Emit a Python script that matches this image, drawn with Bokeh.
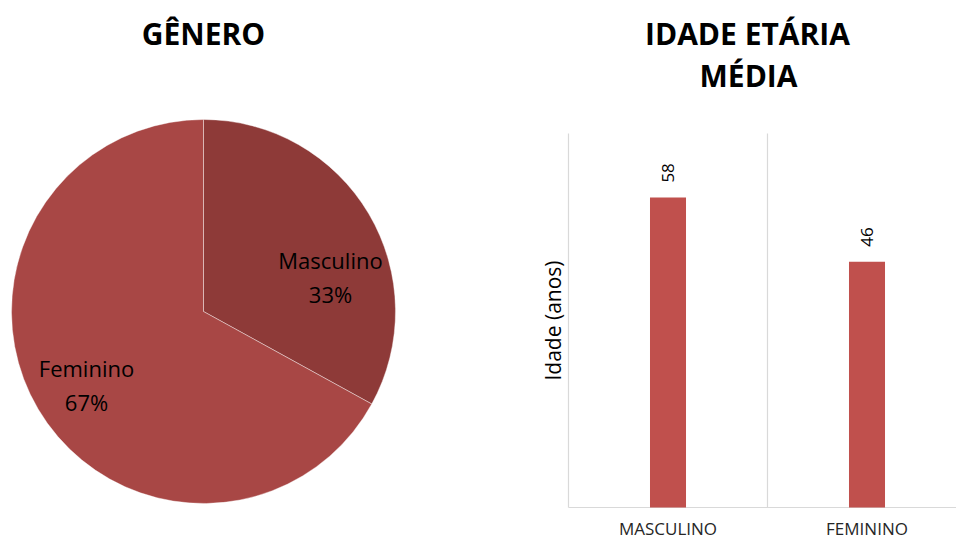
import math
from bokeh.plotting import figure
from bokeh.models import Range1d, ColumnDataSource
from bokeh.core.properties import value
from bokeh.embed import file_html
from bokeh.resources import INLINE

# ---------------- data ----------------
gender_labels = ["Masculino", "Feminino"]
gender_pct = [33, 67]
gender_colors = ["#8E3A38", "#A84745"]

age_categories = ["MASCULINO", "FEMININO"]
age_values = [58, 46]
age_max = 70

FONT = "Open Sans"
W, H = 956, 543

# one canvas in pixel coordinates (y up)
p = figure(width=W, height=H, x_range=Range1d(0, W), y_range=Range1d(0, H),
           x_axis_type=None, y_axis_type=None, min_border=0,
           outline_line_color=None, output_backend="svg", toolbar_location=None)
p.grid.visible = False

def Y(page_y):
    return H - page_y

# ---------------- pie ----------------
cx, cy, r = 203, Y(311), 192
total = sum(gender_pct)
starts, ends = [], []
a = math.pi / 2
for v in gender_pct:
    starts.append(a)
    a -= 2 * math.pi * v / total
    ends.append(a)

lab_x = [330, 86]
lab_y = [Y(276), Y(384)]
src = ColumnDataSource(dict(
    start=starts, end=ends, color=gender_colors,
    name=gender_labels, pct=[f"{v}%" for v in gender_pct],
    lx=lab_x, ly=lab_y))
p.wedge(x=cx, y=cy, radius=r, start_angle="start", end_angle="end",
        direction="clock", fill_color="color", line_color="white",
        line_width=0.8, line_alpha=0.5, source=src)
p.text(x="lx", y="ly", text="name", source=src, y_offset=-17,
       text_font=value(FONT), text_font_size="22px", text_align="center",
       text_baseline="middle", text_color="black")
p.text(x="lx", y="ly", text="pct", source=src, y_offset=17,
       text_font=value(FONT), text_font_size="22px", text_align="center",
       text_baseline="middle", text_color="black")
p.text(x=[203], y=[Y(33)], text=["GÊNERO"], text_font=value(FONT),
       text_font_style="bold", text_font_size="30px", text_align="center",
       text_baseline="middle", text_color="black")

# ---------------- bar chart (own scales) ----------------
frame_left, frame_top, frame_bottom = 568, 133, 507
cat_px = 199
ppu = (frame_bottom - frame_top) / age_max
p.extra_x_ranges = {"cat": Range1d(-frame_left / cat_px, (W - frame_left) / cat_px)}
p.extra_y_ranges = {"age": Range1d(-(H - frame_bottom) / ppu, frame_bottom / ppu)}
cat_end = (W - frame_left) / cat_px

xs = [i + 0.5 for i in range(len(age_categories))]
grey = "#D9D9D9"
# axis lines and category separator
p.segment(x0=[0, 0, 1], y0=[0, 0, 0], x1=[cat_end, 0, 1], y1=[0, age_max, age_max],
          line_color=grey, line_width=1.2, x_range_name="cat", y_range_name="age")
p.vbar(x=xs, top=age_values, width=0.181, fill_color="#C0504D", line_color=None,
       x_range_name="cat", y_range_name="age")
p.text(x=xs, y=age_values, text=[str(v) for v in age_values], angle=math.pi / 2,
       y_offset=-15, text_align="left", text_baseline="middle",
       text_font=value(FONT), text_font_size="17px", text_color="black",
       x_range_name="cat", y_range_name="age")
p.text(x=xs, y=[0] * len(xs), text=age_categories, y_offset=21,
       text_align="center", text_baseline="middle", text_font=value(FONT),
       text_font_size="17px", text_color="#262626",
       x_range_name="cat", y_range_name="age")
p.text(x=[552], y=[Y(320)], text=["Idade (anos)"], angle=math.pi / 2,
       text_align="center", text_baseline="middle", text_font=value(FONT),
       text_font_size="21px", text_color="black")

# title
p.text(x=[747, 748], y=[Y(33), Y(75)], text=["IDADE ETÁRIA", "MÉDIA"],
       text_font=value(FONT), text_font_style="bold", text_font_size="30px",
       text_align="center", text_baseline="middle", text_color="black")

open("out.html", "w").write(file_html(p, INLINE))
